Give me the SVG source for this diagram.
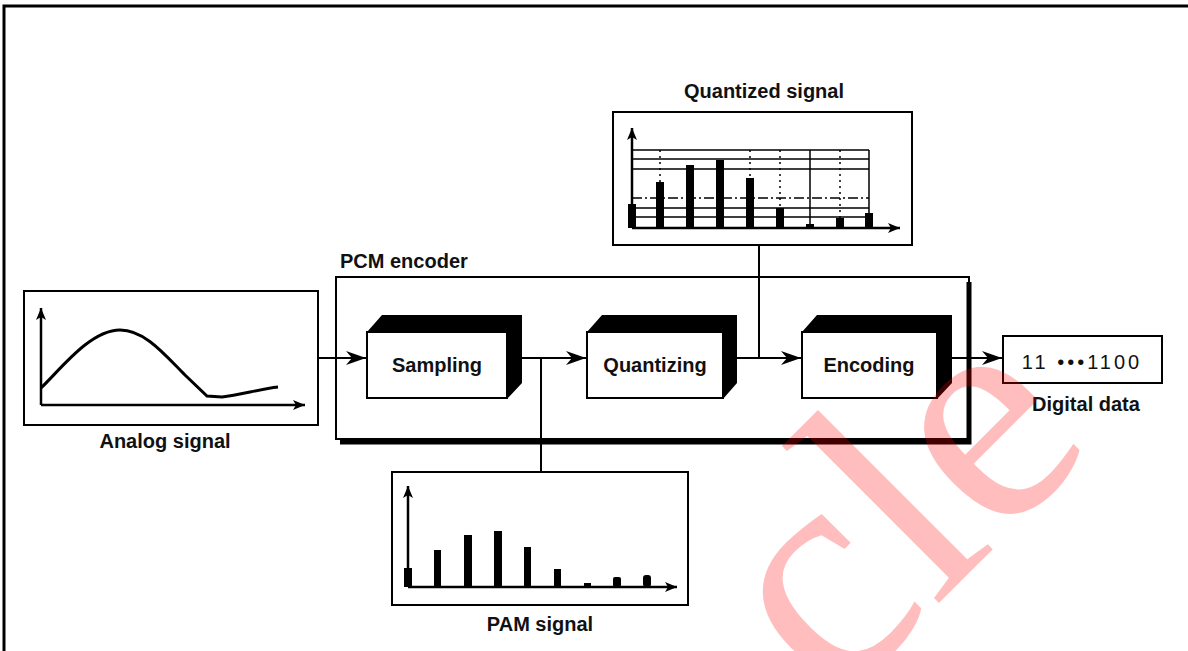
<svg xmlns="http://www.w3.org/2000/svg" width="1188" height="651" viewBox="0 0 1188 651">
<style>
  .lbl{font-family:"Liberation Sans",Arial,sans-serif;font-weight:bold;font-size:20px;fill:#111}
  .box{fill:#fff;stroke:#000;stroke-width:2}
  .ln{fill:none;stroke:#000;stroke-width:2}
  .ax{fill:none;stroke:#000;stroke-width:2.5}
  .bar{fill:#000}
  .grid{stroke:#000;stroke-width:1.5;fill:none}
  .dot{stroke:#000;stroke-width:1.5;stroke-dasharray:2 4;fill:none}
  .dd{stroke:#000;stroke-width:1.5;stroke-dasharray:10 3 2 3;fill:none}
  .ext{fill:#000}
</style>
<defs>
  <marker id="arr" markerUnits="userSpaceOnUse" markerWidth="22" markerHeight="16" refX="20" refY="7" orient="auto">
    <path d="M0,0 L20,7 L0,14 L6,7 z" fill="#000"/>
  </marker>
  <marker id="axa" markerUnits="userSpaceOnUse" markerWidth="14" markerHeight="12" refX="12" refY="5" orient="auto">
    <path d="M0,0 L12,5 L0,10 L3,5 z" fill="#000"/>
  </marker>
</defs>
<rect x="0" y="0" width="1188" height="651" fill="#fff"/>
<rect x="4" y="6" width="1200" height="660" fill="none" stroke="#000" stroke-width="3"/>

<g id="analog">
  <rect class="box" x="24" y="291" width="294" height="134"/>
  <path class="ax" d="M41,405 V308" marker-end="url(#axa)"/>
  <path class="ax" d="M41,405 H305" marker-end="url(#axa)"/>
  <path fill="none" stroke="#000" stroke-width="3" d="M41,388 C60,370 90,330 120,330 C145,330 165,355 185,375 L207,396 L222,397 C240,395 260,389 278,387"/>
  <text class="lbl" x="165" y="448" text-anchor="middle">Analog signal</text>
</g>

<g id="pcm">
  <rect x="336" y="277" width="633" height="162" fill="none" stroke="#000" stroke-width="2"/>
  <path d="M969,282 V442 H340" fill="none" stroke="#000" stroke-width="5"/>
  <text class="lbl" x="340" y="268">PCM encoder</text>
</g>

<g id="sampling">
  <path class="ext" d="M367,332 L382,315 L522,315 L522,383 L507,399 L507,332 z"/>
  <rect class="box" x="367" y="332" width="140" height="66"/>
  <text class="lbl" x="437" y="372" text-anchor="middle">Sampling</text>
</g>

<g id="quantizing">
  <path class="ext" d="M587,332 L602,315 L737,315 L737,383 L723,399 L723,332 z"/>
  <rect class="box" x="587" y="332" width="136" height="66"/>
  <text class="lbl" x="655" y="372" text-anchor="middle">Quantizing</text>
</g>

<g id="encoding">
  <path class="ext" d="M802,332 L817,315 L952,315 L952,383 L937,399 L937,332 z"/>
  <rect class="box" x="802" y="332" width="135" height="66"/>
  <text class="lbl" x="869" y="372" text-anchor="middle">Encoding</text>
</g>

<g id="digital">
  <rect class="box" x="1003" y="336" width="159" height="47"/>
  <text x="1082" y="369" text-anchor="middle" style="font-family:'Liberation Sans',Arial,sans-serif;font-size:20px;letter-spacing:3px;fill:#111">11 •••1100</text>
  <text class="lbl" x="1086" y="411" text-anchor="middle">Digital data</text>
</g>

<g id="quantized">
  <text class="lbl" x="764" y="98" text-anchor="middle">Quantized signal</text>
  <rect class="box" x="613" y="112" width="299" height="133"/>
  <path class="grid" d="M632,150 H869 M632,159 H869 M632,169 H869 M632,208 H869 M632,217 H869"/>
  <path class="dd" d="M632,198 H869"/>
  <path class="dot" d="M660,150 V228 M750,150 V228 M780,150 V228 M840,150 V228"/>
  <path class="grid" d="M810,150 V228 M869,150 V228"/>
  <rect class="bar" x="628" y="204" width="8" height="24"/>
  <rect class="bar" x="656" y="182" width="8" height="46"/>
  <rect class="bar" x="686" y="165" width="8" height="63"/>
  <rect class="bar" x="716" y="160" width="8" height="68"/>
  <rect class="bar" x="746" y="178" width="8" height="50"/>
  <rect class="bar" x="776" y="208" width="8" height="20"/>
  <rect class="bar" x="806" y="224" width="8" height="4"/>
  <rect class="bar" x="836" y="218" width="8" height="10"/>
  <rect class="bar" x="865" y="213" width="8" height="15"/>
  <path class="ax" d="M632,228 V128" marker-end="url(#axa)"/>
  <path class="ax" d="M632,228 H900" marker-end="url(#axa)"/>
</g>

<g id="pam">
  <rect class="box" x="392" y="472" width="296" height="133"/>
  <rect class="bar" x="404" y="568" width="8" height="19"/>
  <rect class="bar" x="434" y="550" width="7" height="37"/>
  <rect class="bar" x="464" y="535" width="8" height="52"/>
  <rect class="bar" x="494" y="531" width="8" height="56"/>
  <rect class="bar" x="524" y="547" width="7" height="40"/>
  <rect class="bar" x="554" y="569" width="7" height="18"/>
  <rect class="bar" x="584" y="583" width="7" height="4"/>
  <rect class="bar" x="613" y="577" width="8" height="10" rx="2"/>
  <rect class="bar" x="643" y="575" width="8" height="12" rx="3"/>
  <path class="ax" d="M408,587 V486" marker-end="url(#axa)"/>
  <path class="ax" d="M408,587 H677" marker-end="url(#axa)"/>
  <text class="lbl" x="540" y="631" text-anchor="middle">PAM signal</text>
</g>

<g id="connectors">
  <path class="ln" d="M318,358 H366" marker-end="url(#arr)"/>
  <path class="ln" d="M522,358 H586" marker-end="url(#arr)"/>
  <path class="ln" d="M541,358 V472"/>
  <path class="ln" d="M737,358 H801" marker-end="url(#arr)"/>
  <path class="ln" d="M759,245 V358"/>
  <path class="ln" d="M952,358 H1002" marker-end="url(#arr)"/>
</g>

<text x="834" y="708" transform="rotate(-45 834 708)" style="font-family:'Liberation Serif','Times New Roman',serif;font-size:320px;fill:#ff0000;fill-opacity:0.26">cle</text>
</svg>
